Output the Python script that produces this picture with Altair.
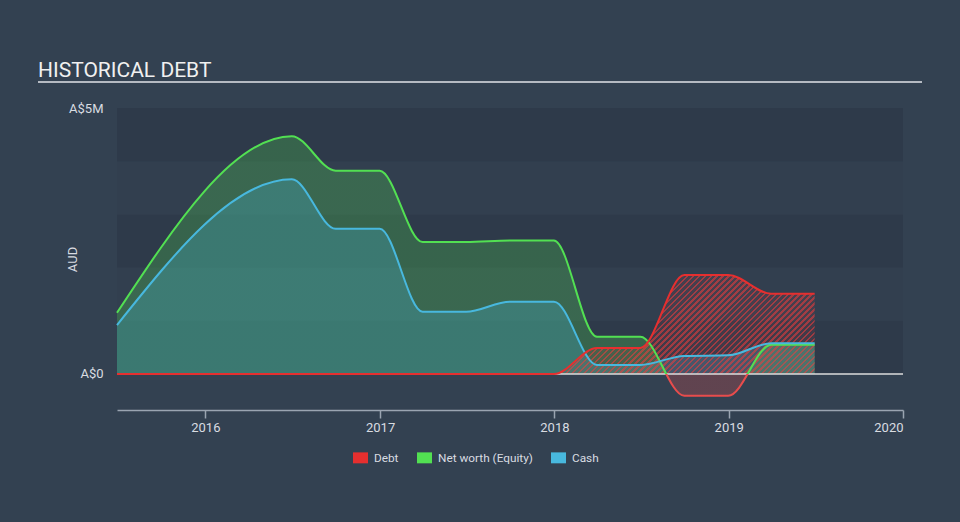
import altair as alt
import pandas as pd

# ---------------- data ----------------
dates = ["2015-06-30", "2016-06-30", "2016-09-30", "2016-12-31", "2017-03-31",
         "2017-06-30", "2017-09-30", "2017-12-31", "2018-03-31", "2018-06-30",
         "2018-09-30", "2018-12-31", "2019-03-31", "2019-06-30"]
debt = [0, 0, 0, 0, 0, 0, 0, 0, 0.49, 0.49, 1.86, 1.86, 1.51, 1.51]
equity = [1.15, 4.47, 3.82, 3.82, 2.48, 2.48, 2.51, 2.51, 0.70, 0.70, -0.41, -0.41, 0.55, 0.55]
cash = [0.92, 3.66, 2.73, 2.73, 1.17, 1.17, 1.36, 1.36, 0.17, 0.17, 0.34, 0.35, 0.58, 0.58]

series_names = ["Debt", "Net worth (Equity)", "Cash"]
series_colors = ["#e62f2f", "#52e052", "#48b8de"]
y_ticks = [0, 5]
band_lo = [0, 1, 2, 3, 4]
band_hi = [1, 2, 3, 4, 5]
band_shade = ["dark", "light", "dark", "light", "dark"]
title_text = ["HISTORICAL DEBT"]

# ---------------- style ----------------
BG = "#334151"
BAND_DARK = "#2e3a4a"
BAND_LIGHT = "#323f4f"
RED, GREEN, BLUE = series_colors
NEG_RED = "#e84c4c"
TXT = "#d9dce1"
W, H = 786, 302
X_DOMAIN = ["2015-06-30", "2020-01-01"]
Y_DOMAIN = [-0.677, 5]

df = pd.DataFrame({"date": dates, "Debt": debt,
                   "Net worth (Equity)": equity, "Cash": cash})
long = df.melt("date", var_name="series", value_name="value")
bands = pd.DataFrame({"lo": band_lo, "hi": band_hi, "shade": band_shade})

xscale = alt.Scale(domain=X_DOMAIN)
yscale = alt.Scale(domain=Y_DOMAIN, nice=False, zero=False)

xaxis = alt.Axis(format="%Y", tickCount={"interval": "year", "step": 1},
                 grid=False, title=None, labelFontSize=13, labelColor=TXT,
                 labelFont="Roboto", domainColor="#9aa4b1", domainWidth=1.5,
                 tickColor="#9aa4b1", tickWidth=1.5, tickSize=8,
                 labelPadding=3, labelFlush=True)
yaxis = alt.Axis(values=y_ticks,
                 labelExpr="datum.value == 0 ? 'A$0' : 'A$' + datum.value + 'M'",
                 title="AUD", grid=False, ticks=False, domain=False,
                 labelPadding=14, labelFontSize=13, labelColor=TXT,
                 labelFont="Roboto", titleFont="Roboto", titleFontSize=13,
                 titleFontWeight="normal", titleColor=TXT,
                 titleX=-45, titleY=151, titleAngle=270,
                 titleBaseline="middle", titleAlign="center")

X = alt.X("date:T", scale=xscale, axis=xaxis)
Y = alt.Y("value:Q", scale=yscale, axis=yaxis)

# gradient split at zero for net worth (green above zero, red below)
emax, emin = max(max(equity), 0), min(min(equity), 0)
f = emax / (emax - emin)


def split_gradient(top, bottom):
    return alt.Gradient(gradient="linear", x1=0, x2=0, y1=0, y2=1,
                        stops=[alt.GradientStop(color=top, offset=0),
                               alt.GradientStop(color=top, offset=f),
                               alt.GradientStop(color=bottom, offset=f),
                               alt.GradientStop(color=bottom, offset=1)])


# diagonal hatch for the debt area, built as a striped gradient over its bounding box
d0, d1 = pd.Timestamp(X_DOMAIN[0]), pd.Timestamp(X_DOMAIN[1])
bw = W * (pd.Timestamp(dates[-1]) - pd.Timestamp(dates[0])).days / (d1 - d0).days
bh = H * (max(debt) - 0) / (Y_DOMAIN[1] - Y_DOMAIN[0])
s = (bw + bh) * bw / (bw ** 2 + bh ** 2)
period = 4.2 * 2 ** 0.5      # measured along x+y
stripe = 0.42                 # fraction of period that is inked
n = int((bw + bh) / period) + 1
hatch_stops = []
for i in range(n):
    a = i * period / (bw + bh)
    b = (i + stripe) * period / (bw + bh)
    c = (i + 1) * period / (bw + bh)
    if a > 1:
        break
    hatch_stops += [
        alt.GradientStop(color="rgba(240,60,60,0.9)", offset=min(a, 1)),
        alt.GradientStop(color="rgba(240,60,60,0.9)", offset=min(b, 1)),
        alt.GradientStop(color="rgba(240,60,60,0.15)", offset=min(b, 1)),
        alt.GradientStop(color="rgba(240,60,60,0.15)", offset=min(c, 1)),
    ]
hatch = alt.Gradient(gradient="linear", x1=0, y1=0, x2=s, y2=s * bh / bw,
                     stops=hatch_stops)

bands_layer = alt.Chart(bands).mark_rect().encode(
    x=alt.value(0), x2=alt.value(W),
    y=alt.Y("lo:Q", scale=yscale, axis=yaxis), y2="hi:Q",
    fill=alt.condition("datum.shade == 'dark'", alt.value(BAND_DARK), alt.value(BAND_LIGHT)),
)

base = alt.Chart(long)
eq = base.transform_filter("datum.series == 'Net worth (Equity)'")
ca = base.transform_filter("datum.series == 'Cash'")
de = base.transform_filter("datum.series == 'Debt'")

eq_area = eq.mark_area(interpolate="monotone", fill=split_gradient(GREEN, NEG_RED),
                       fillOpacity=0.25).encode(x=X, y=Y, y2=alt.Y2(datum=0))
ca_area = ca.mark_area(interpolate="monotone", fill=BLUE, fillOpacity=0.25).encode(
    x=X, y=Y, y2=alt.Y2(datum=0))
de_area = de.mark_area(interpolate="monotone", fill=hatch, fillOpacity=0.65).encode(
    x=X, y=Y, y2=alt.Y2(datum=0))

zero_rule = alt.Chart(pd.DataFrame({"v": [y_ticks[0]]})).mark_rule(
    color="#dcdcdc", strokeWidth=1.5).encode(
    y=alt.Y("v:Q", scale=yscale, axis=yaxis), x=alt.value(0), x2=alt.value(W))

eq_line = eq.mark_line(interpolate="monotone", stroke=split_gradient(GREEN, NEG_RED),
                       strokeWidth=2).encode(x=X, y=Y)
ca_line = ca.mark_line(interpolate="monotone", color=BLUE, strokeWidth=2).encode(x=X, y=Y)
de_line = de.mark_line(interpolate="monotone", color=RED, strokeWidth=2).encode(x=X, y=Y)

legend_layer = base.mark_square(clip=True, opacity=1).encode(
    x=X, y=alt.value(-60),
    color=alt.Color("series:N",
                    scale=alt.Scale(domain=series_names, range=series_colors),
                    legend=alt.Legend(title=None, orient="none", legendX=236, legendY=342,
                                      direction="horizontal",
                                      symbolType="M-1,-0.73H1V0.73H-1Z", symbolSize=225,
                                      symbolStrokeWidth=0, labelFontSize=11.8,
                                      labelFont="Roboto", labelColor=TXT,
                                      labelOffset=6, columnPadding=18)),
)

title_layer = alt.Chart(pd.DataFrame({"t": title_text})).mark_text(
    align="left", baseline="alphabetic", fontSize=21, font="Roboto",
    color="#f0f0f0").encode(text="t:N", x=alt.value(-79), y=alt.value(-31))

underline = alt.Chart(pd.DataFrame({"t": title_text})).mark_rule(
    color="#b5bac2", strokeWidth=2).encode(
    x=alt.value(-79), x2=alt.value(805), y=alt.value(-26))

chart = alt.layer(
    bands_layer, eq_area, ca_area, de_area, zero_rule,
    eq_line, ca_line, de_line, legend_layer, title_layer, underline,
).properties(
    width=W, height=H,
    padding={"left": 117, "top": 108, "right": 57, "bottom": 112},
    autosize=alt.AutoSizeParams(type="none"),
    background=BG,
).configure_view(strokeWidth=0)

chart.save("out.html", embed_options={"renderer": "svg", "actions": False})
